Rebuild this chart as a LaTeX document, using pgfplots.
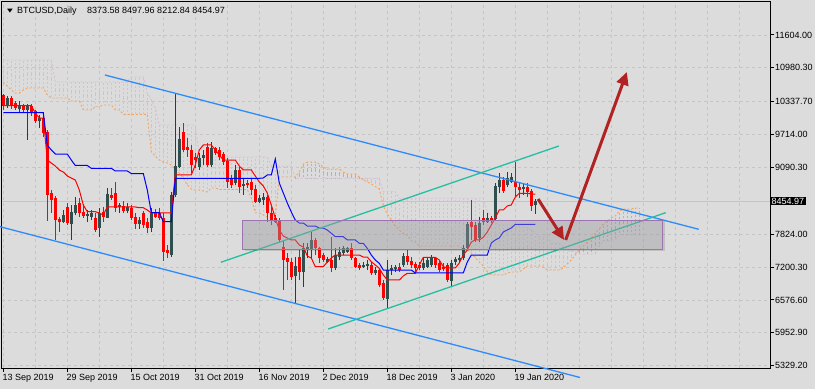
\documentclass[border=0pt]{standalone}
\usepackage{pgfplots}
\pgfplotsset{compat=1.18}
\usepackage{pgfplotstable}
\usetikzlibrary{arrows.meta}
\usepackage{fontspec}
\setmainfont{Liberation Sans}
\newfontfamily\dejavu{DejaVu Sans}

\definecolor{bg}{RGB}{220,220,220}
\definecolor{gridc}{RGB}{198,198,198}
\definecolor{bullc}{RGB}{47,79,79}
\definecolor{bullw}{RGB}{40,62,62}
\definecolor{bearc}{RGB}{255,0,0}
\definecolor{tenkan}{RGB}{255,0,0}
\definecolor{kijun}{RGB}{0,0,255}
\definecolor{spana}{RGB}{244,164,96}
\definecolor{spanb}{RGB}{216,191,216}
\definecolor{tline}{RGB}{45,140,250}
\definecolor{gline}{RGB}{38,190,160}
\definecolor{arrowc}{RGB}{178,34,34}
\definecolor{rectfill}{RGB}{152,152,160}
\definecolor{rectline}{RGB}{155,115,175}
\definecolor{bidc}{RGB}{196,196,196}

\pgfplotsset{nomark/.style={only marks, mark=*, mark size=0pt, mark options={draw=none, fill=none}, forget plot}}

% day index (0 = 13 Sep 2019), open, high, low, close
\pgfplotstableread{
d o h l c
1 10275 10445 10218 10407
4 10199 10350 10142 10256
6 10180 10294 9611 10256
9 9971 10085 9838 10028
15 8055 8283 8036 8188
17 8017 8378 7714 8245
18 8226 8529 8188 8378
21 8169 8283 8055 8207
22 8150 8283 8093 8226
24 7941 8321 7770 8226
26 8131 8700 8131 8586
29 8340 8415 8226 8378
31 8264 8415 8226 8340
34 8017 8150 7922 8093
37 7947 8315 7871 8220
42 7429 8630 7397 8567
43 8567 10496 8535 9117
44 9104 9863 9074 9630
49 9104 9358 9042 9275
50 9263 9421 9136 9326
52 9136 9578 9104 9453
58 8789 9136 8757 9042
60 8738 8884 8567 8776
64 8440 8567 8410 8504
65 8472 8599 8378 8535
73 7031 7397 6513 7221
75 7112 7651 6828 7556
76 7524 7651 7366 7587
77 7524 7871 7366 7714
81 7302 7397 7271 7347
83 7176 7556 7144 7429
84 7397 7587 7334 7492
85 7461 7600 7429 7556
86 7492 7587 7461 7556
90 7207 7302 7176 7239
91 7221 7334 7144 7252
93 7082 7207 7050 7144
96 6589 7334 6418 7144
97 7144 7239 7050 7176
98 7157 7239 7112 7196
100 7239 7461 7207 7410
105 7176 7397 7144 7271
106 7207 7366 7176 7334
107 7239 7429 7207 7366
112 6941 7334 6828 7271
113 7302 7397 7239 7347
114 7334 7429 7302 7378
115 7366 7619 7334 7556
116 7556 8061 7524 8017
119 7746 8156 7682 8042
121 8061 8220 8030 8125
123 8106 8789 8093 8738
124 8725 8979 8599 8852
126 8757 9010 8725 8884
127 8820 8991 8789 8903
130 8675 8789 8567 8713
133 8373.58 8497.96 8212.84 8454.97
}\bull

\pgfplotstableread{
d o h l c
0 10464 10483 10180 10256
2 10407 10445 10199 10275
3 10312 10350 10180 10218
5 10256 10294 10123 10180
7 10256 10294 10066 10123
8 10161 10180 9933 9971
10 10028 10066 9668 9743
11 9762 9800 8074 8567
12 8605 8662 8226 8472
13 8510 8548 7714 8093
14 8112 8150 7865 8055
16 8340 8415 7998 8036
19 8415 8510 8150 8226
20 8245 8396 8131 8169
23 8131 8226 7865 7903
25 8245 8340 8055 8150
27 8567 8700 8472 8510
28 8605 8814 8245 8321
30 8359 8453 8226 8264
32 8321 8378 8093 8131
33 8150 8226 7922 8017
35 8220 8264 7935 7998
36 8061 8125 7840 7935
38 8231 8302 8125 8155
39 8220 8315 8093 8125
40 8137 8220 7315 7492
41 7524 7619 7366 7461
45 9768 9927 9389 9421
46 9484 9643 9294 9421
47 9421 9516 8979 9136
48 9294 9358 9074 9231
51 9484 9548 9104 9136
53 9453 9484 9326 9358
54 9421 9484 9231 9294
55 9339 9389 9136 9199
56 9212 9263 8694 8820
57 8865 8947 8694 8757
59 9042 9104 8599 8725
61 8789 8852 8694 8757
62 8820 8884 8567 8662
63 8681 8757 8410 8440
66 8535 8567 8061 8220
67 8232 8345 7998 8093
68 8125 8188 8030 8061
69 8093 8125 7651 7714
70 7587 7714 6765 7334
71 7366 7461 6955 7302
72 7302 7366 6955 7017
74 7397 7524 6955 7112
78 7714 7746 7429 7556
79 7556 7587 7271 7366
80 7429 7461 7302 7334
82 7334 7777 7112 7176
87 7556 7651 7334 7366
88 7366 7397 7176 7207
89 7239 7271 7144 7176
92 7239 7302 7050 7082
94 7144 7176 6828 6860
95 6892 6955 6575 6608
99 7207 7271 7112 7144
101 7410 7524 7239 7302
102 7321 7397 7176 7239
103 7258 7302 7112 7176
104 7239 7302 7144 7176
108 7366 7397 7176 7239
109 7271 7334 7112 7144
110 7207 7271 7131 7176
111 7239 7271 6923 6955
117 8061 8472 7714 7960
118 7998 8061 7682 7714
120 8125 8283 7998 8061
122 8125 8169 8030 8080
125 8852 8915 8599 8649
128 8820 9199 8535 8713
129 8713 8789 8504 8662
131 8713 8789 8535 8630
132 8649 8675 8269 8358
}\bear

% Ichimoku cloud: Senkou span A and B, per day (shifted 26 days ahead)
\pgfplotstableread{
d A B
0 10711 11128
1 10635 11128
2 10559 11128
3 10502 11128
4 10502 11128
5 10559 11128
6 10597 11128
7 10597 11128
8 10597 11128
9 10597 11128
10 10597 11128
11 10464 11128
12 10407 11128
13 10407 10711
14 10407 10711
15 10407 10711
16 10407 10711
17 10350 10711
18 10350 10711
19 10350 10711
20 10180 10711
21 10180 10711
22 10180 10711
23 10242 10711
24 10242 10711
25 10275 10711
26 10275 10711
27 10275 10711
28 10180 10711
29 10180 10711
30 10098 10711
31 10098 10711
32 10098 10806
33 10098 10806
34 10098 10806
35 10098 10806
36 10098 10502
37 9383 10370
38 9307 10218
39 9231 9895
40 9193 9895
41 9174 9895
42 9136 9895
43 9061 9895
44 8985 9895
45 8890 9895
46 8757 9895
47 8681 9895
48 8662 9895
49 8662 9288
50 8643 9288
51 8624 9288
52 8700 9288
53 8700 9288
54 8672 9288
55 8672 9288
56 8672 9288
57 8672 9288
58 8672 9288
59 8672 9288
60 8672 9288
61 8672 9288
62 8510 9288
63 8226 9288
64 8226 9288
65 8188 9288
66 8150 9288
67 8150 9117
68 8150 9117
69 8909 9117
70 8909 9117
71 8909 9117
72 8909 9117
73 8909 8884
74 9004 8884
75 9155 8884
76 9193 8884
77 9193 8884
78 9193 8884
79 9155 8884
80 9098 8884
81 9061 8884
82 9061 8884
83 9061 8884
84 9061 8884
85 9004 8884
86 8966 8884
87 8966 8884
88 8966 8884
89 8909 8884
90 8852 8884
91 8814 8884
92 8776 8884
93 8729 8884
94 8681 8884
95 8359 8630
96 8207 8630
97 8093 8630
98 7979 8630
99 7903 8505
100 7827 8505
101 7809 8505
102 7695 8505
103 7676 8505
104 7600 8505
105 7600 8505
106 7600 8505
107 7600 8505
108 7600 8505
109 7600 8505
110 7600 8505
111 7600 8505
112 7600 8505
113 7600 8505
114 7600 8505
115 7543 8505
116 7524 8505
117 7467 8505
118 7372 8505
119 7296 8505
120 7220 8505
121 7107 8251
122 7050 8169
123 7050 8036
124 7050 7998
125 7050 7998
126 7088 7998
127 7107 7998
128 7107 7998
129 7107 7998
130 7163 7951
131 7220 7951
132 7220 7903
133 7220 7841
134 7220 7771
135 7201 7771
136 7144 7771
137 7144 7651
138 7144 7651
139 7144 7651
140 7183 7581
141 7258 7505
142 7334 7505
143 7429 7486
144 7524 7448
145 7600 7448
146 7676 7448
147 7752 7448
148 7846 7448
149 7922 7600
150 8017 7695
151 8074 7695
152 8131 7714
153 8169 7714
154 8264 7809
155 8302 7809
156 8302 7809
157 8302 7809
158 8321 7809
159 8321 7809
}\cloud

\begin{document}
\begin{tikzpicture}
\useasboundingbox (0pt,0pt) rectangle (815pt,389pt);
\fill[bg] (0pt,0pt) rectangle (815pt,389pt);
\begin{axis}[
  at={(2pt,21pt)}, anchor=south west,
  scale only axis, width=768pt, height=366pt,
  xmin=-0.325, xmax=191.675, ymin=5285.5, ymax=12228.6,
  clip=false,
  scaled x ticks=false, scaled y ticks=false,
  axis line style={black, line width=1pt},
  xtick={0,16,32,48,64,80,96,112,128},
  xticklabels={13 Sep 2019,29 Sep 2019,15 Oct 2019,31 Oct 2019,16 Nov 2019,2 Dec 2019,18 Dec 2019,3 Jan 2020,19 Jan 2020},
  minor xtick={8,24,40,56,72,88,104,120,136,144,152,160,168,176,184},
  ytick={5329.2,5952.9,6576.6,7200.3,7824,9090.3,9714,10337.7,10980.3,11604},
  yticklabels={5329.20,5952.90,6576.60,7200.30,7824.00,9090.30,9714.00,10337.70,10980.30,11604.00},
  xtick pos=bottom, ytick pos=right, yticklabel pos=right,
  tick align=outside,
  major tick length=4pt, minor tick length=0pt,
  tick style={black, line width=1pt},
  grid=both,
  major grid style={gridc, line width=0.8pt, dash pattern=on 3pt off 3pt},
  minor grid style={gridc, line width=0.8pt, dash pattern=on 3pt off 3pt},
  tick label style={font=\fontsize{9}{10}\selectfont, text=black},
  xticklabel style={anchor=north west, inner sep=0pt, xshift=-1pt, yshift=-2pt},
  yticklabel style={anchor=west, inner sep=0pt, xshift=1pt},
]
% bid line
\addplot[bidc, line width=0.8pt, forget plot] coordinates {(-0.325,8454.97) (191.675,8454.97)};

% cloud hatching
\addplot[nomark, error bars/.cd, y dir=both, y explicit, error mark=none,
  error bar style={spanb, line width=0.9pt, dash pattern=on 2pt off 2pt}]
  table[x=d, y expr={(\thisrow{A}+\thisrow{B})/2}, y error expr={max(\thisrow{B}-\thisrow{A},0)/2}] {\cloud};
\addplot[nomark, error bars/.cd, y dir=both, y explicit, error mark=none,
  error bar style={spana, line width=0.9pt, dash pattern=on 2pt off 2pt}]
  table[x=d, y expr={(\thisrow{A}+\thisrow{B})/2}, y error expr={max(\thisrow{A}-\thisrow{B},0)/2}] {\cloud};
\addplot[spanb, line width=0.9pt, dash pattern=on 2pt off 2pt] table[x=d, y=B] {\cloud};
\addplot[spana, line width=0.9pt, dash pattern=on 2pt off 2pt] table[x=d, y=A] {\cloud};

% candles: wicks
\addplot[nomark, error bars/.cd, y dir=both, y explicit, error mark=none,
  error bar style={bullw, line width=1pt}]
  table[x=d, y expr={(\thisrow{h}+\thisrow{l})/2}, y error expr={(\thisrow{h}-\thisrow{l})/2}] {\bull};
\addplot[nomark, error bars/.cd, y dir=both, y explicit, error mark=none,
  error bar style={bearc, line width=1pt}]
  table[x=d, y expr={(\thisrow{h}+\thisrow{l})/2}, y error expr={(\thisrow{h}-\thisrow{l})/2}] {\bear};
% candles: bodies
\addplot[nomark, error bars/.cd, y dir=both, y explicit, error mark=none,
  error bar style={bullc, line width=3pt}]
  table[x=d, y expr={(\thisrow{o}+\thisrow{c})/2}, y error expr={max(abs(\thisrow{c}-\thisrow{o})/2,10)}] {\bull};
\addplot[nomark, error bars/.cd, y dir=both, y explicit, error mark=none,
  error bar style={bearc, line width=3pt}]
  table[x=d, y expr={(\thisrow{o}+\thisrow{c})/2}, y error expr={max(abs(\thisrow{c}-\thisrow{o})/2,10)}] {\bear};

% Tenkan-sen
\addplot[tenkan, line width=1pt] coordinates {
(0,10261)(7,10261)(8,10123)(9,10028)(10,10028)(11,9231)(12,9174)(13,9117)(14,9042)(15,9004)(16,8928)(17,8890)(18,8852)(19,8662)(20,8378)(21,8251)(23,8251)(24,8226)(25,8188)(26,8340)(33,8340)(34,8326)(35,8326)(36,8283)(37,8226)(42,8226)(43,8947)(47,8947)(48,9136)(49,9421)(50,9516)(52,9516)(53,9421)(54,9326)(55,9231)(58,9231)(59,9117)(60,9042)(62,9042)(63,8928)(64,8814)(65,8738)(66,8605)(67,8378)(68,8131)(69,7903)(70,7790)(71,7752)(72,7714)(73,7714)(74,7619)(75,7581)(76,7410)(77,7372)(78,7207)(80,7207)(81,7296)(82,7372)(83,7429)(89,7429)(90,7391)(91,7391)(92,7302)(93,7239)(94,7177)(95,7050)(96,6955)(99,6955)(100,7031)(101,7082)(103,7082)(104,7239)(105,7385)(108,7385)(109,7334)(110,7207)(111,7183)(113,7183)(114,7277)(115,7429)(116,7524)(117,7676)(118,7714)(119,7714)(120,7765)(121,7865)(122,7998)(123,8131)(124,8283)(125,8283)(126,8359)(127,8378)(128,8529)(129,8600)(131,8600)(132,8586)(133,8586)};
% Kijun-sen
\addplot[kijun, line width=1pt] coordinates {
(0,10129)(10,10129)(11,9516)(12,9421)(13,9345)(16,9345)(17,9231)(18,9127)(21,9127)(22,9074)(27,9074)(28,9023)(31,9023)(32,8975)(35,8975)(36,8662)(37,8232)(39,8232)(40,8061)(42,8061)(43,8884)(64,8884)(65,8890)(66,8947)(67,8947)(68,9250)(69,8795)(70,8605)(71,8415)(72,8245)(73,8093)(74,8036)(75,8036)(76,7979)(78,7979)(79,7941)(80,7941)(81,7903)(82,7841)(83,7776)(85,7776)(86,7714)(88,7714)(89,7651)(90,7651)(91,7556)(92,7429)(93,7334)(94,7271)(95,7144)(102,7144)(103,7088)(115,7088)(116,7296)(117,7429)(121,7429)(122,7657)(123,7714)(124,7752)(125,7865)(126,7903)(127,7941)(128,8011)(133,8011)};

% trend channels
\addplot[tline, line width=1.3pt] coordinates {(25.4,10844) (173.85,7917)};
\addplot[tline, line width=1.3pt] coordinates {(-0.83,7966) (144.2,5105)};
\addplot[gline, line width=1.3pt] coordinates {(54.4,7291) (138.9,9497)};
\addplot[gline, line width=1.3pt] coordinates {(81.2,6025) (165.6,8232)};

% support zone (shadow, then box)
\addplot[draw=black, draw opacity=0.12, line width=2pt] coordinates {(60.3,7515) (165.2,7515) (165.2,8080)};
\addplot[draw=rectline, line width=1pt, fill=rectfill, fill opacity=0.42] coordinates {(59.9,8093) (164.7,8093) (164.7,7533) (59.9,7533) (59.9,8093)};

% arrows
\addplot[arrowc, line width=3pt, -{Triangle[length=13pt,width=12pt]}] coordinates {(133.7,8491) (140.2,7714)};
\addplot[arrowc, line width=3pt, -{Triangle[length=13pt,width=12pt]}] coordinates {(140.6,7714) (155.9,10901)};

% current price label
\node[fill=black, text=white, anchor=west, inner xsep=1.5pt, inner ysep=1pt, font=\fontsize{9}{10}\selectfont] at (axis cs:191.675,8454.97) {8454.97};
\end{axis}
\node at (10pt,378pt) {\dejavu\fontsize{7.5}{8}\selectfont\scalebox{1}[0.7]{▼}};
\node[anchor=base west, inner sep=0pt, font=\fontsize{9}{10}\selectfont] at (17pt,375pt) {BTCUSD,Daily};
\node[anchor=base west, inner sep=0pt, font=\fontsize{9}{10}\selectfont] at (87pt,375pt) {8373.58 8497.96 8212.84 8454.97};
\end{tikzpicture}
\end{document}
